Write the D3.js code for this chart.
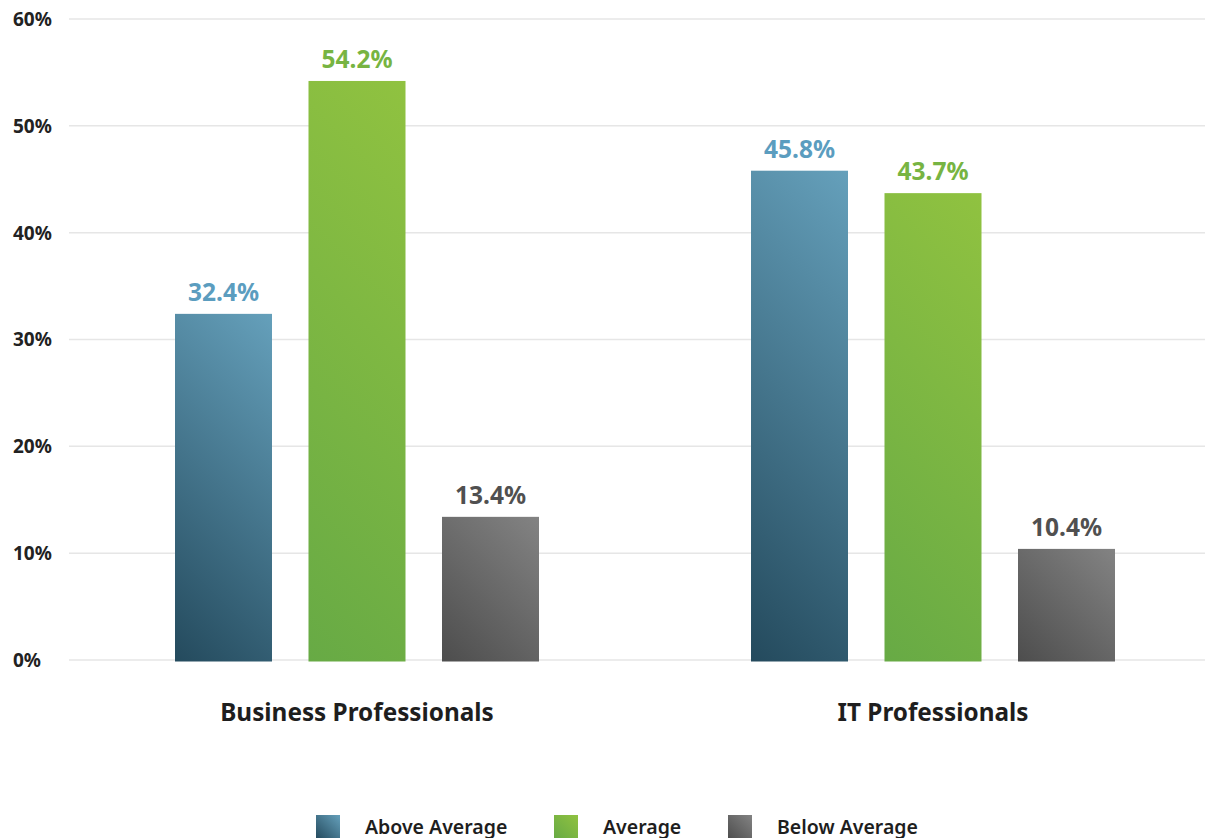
<!DOCTYPE html>
<html>
<head>
<meta charset="utf-8">
<script src="https://cdn.jsdelivr.net/npm/d3@7"></script>
<style>
  html, body { margin: 0; padding: 0; background: #fff; }
  svg { display: block; font-family: "Noto Sans", "Open Sans", sans-serif; }
</style>
</head>
<body>
<svg id="chart" width="1205" height="838"></svg>
<script>
// Survey groups and the share of respondents in each rating band
const categories = ["Business Professionals", "IT Professionals"];
const seriesNames = ["Above Average", "Average", "Below Average"];
const aboveAverage = [32.4, 45.8];
const average = [54.2, 43.7];
const belowAverage = [13.4, 10.4];
const yTicks = [0, 10, 20, 30, 40, 50, 60];

const seriesValues = [aboveAverage, average, belowAverage];

// gradient stops (bottom-left dark -> top-right light) and label colours per series
const palette = [
  { dark: "#244a5d", light: "#65a0bb", label: "#5b9dbf" },
  { dark: "#67aa45", light: "#90c240", label: "#77b442" },
  { dark: "#4d4d4d", light: "#838383", label: "#505050" }
];

const svg = d3.select("#chart");
const plotLeft = 69, gridRight = 1205, plotTop = 19, plotBottom = 660;
const defs = svg.append("defs");

const y = d3.scaleLinear().domain([0, 60]).range([plotBottom, plotTop]);

const x0 = d3.scaleBand().domain(categories).range([plotLeft, 1221]).padding(0);
const x1 = d3.scaleBand().domain(seriesNames)
  .range([0, x0.bandwidth()])
  .paddingInner(0.2734).paddingOuter(0.794);

// 45-degree gradient spanning a rectangle corner to corner (like CSS linear-gradient(45deg)),
// expressed in the rectangle's own user coordinates
function diagonalGradient(id, p, x, yTop, w, h) {
  const cx = x + w / 2, cy = yTop + h / 2;
  const half = (w + h) / 4;
  const g = defs.append("linearGradient")
    .attr("id", id)
    .attr("gradientUnits", "userSpaceOnUse")
    .attr("x1", cx - half).attr("y1", cy + half)
    .attr("x2", cx + half).attr("y2", cy - half);
  g.append("stop").attr("offset", "0").attr("stop-color", p.dark);
  g.append("stop").attr("offset", "1").attr("stop-color", p.light);
  return `url(#${id})`;
}

// horizontal gridlines
svg.append("g").selectAll("line").data(yTicks).join("line")
  .attr("x1", plotLeft).attr("x2", gridRight)
  .attr("y1", d => y(d)).attr("y2", d => y(d))
  .attr("stroke", "#e6e6e6").attr("stroke-width", 1.5);

// y tick labels
svg.append("g").selectAll("text").data(yTicks).join("text")
  .attr("x", 13).attr("y", d => y(d))
  .attr("dy", "0.36em")
  .attr("font-size", 19).attr("font-weight", 700).attr("fill", "#222")
  .text(d => d + "%");

// bars
const groups = svg.append("g").selectAll("g").data(categories).join("g")
  .attr("transform", c => `translate(${x0(c)},0)`);

groups.each(function (c, ci) {
  const g = d3.select(this);
  seriesNames.forEach((s, si) => {
    const v = seriesValues[si][ci];
    const bx = x1(s), bw = x1.bandwidth();
    const by = y(v), bh = y(0) - y(v) + 1.5;
    g.append("rect")
      .attr("x", bx).attr("width", bw)
      .attr("y", by).attr("height", bh)
      .attr("fill", diagonalGradient(`grad-${ci}-${si}`, palette[si], bx, by, bw, bh));
    g.append("text")
      .attr("x", bx + bw / 2)
      .attr("y", by - 13)
      .attr("text-anchor", "middle")
      .attr("font-size", 24.5).attr("font-weight", 700)
      .attr("fill", palette[si].label)
      .text(v.toFixed(1) + "%");
  });
  g.append("text")
    .attr("x", x0.bandwidth() / 2).attr("y", 721)
    .attr("text-anchor", "middle")
    .attr("font-size", 24.3).attr("font-weight", 700).attr("fill", "#1e1e1e")
    .text(c);
});

// legend
const legendX = [316, 554, 728];
const legend = svg.append("g").selectAll("g").data(seriesNames).join("g")
  .attr("transform", (d, i) => `translate(${legendX[i]},815)`);
legend.append("rect").attr("width", 24).attr("height", 24)
  .attr("fill", (d, i) => diagonalGradient(`legend-grad-${i}`, palette[i], 0, 0, 24, 24));
legend.append("text").attr("x", 49).attr("y", 12).attr("dy", "0.36em")
  .attr("font-size", 19.5).attr("font-weight", 600).attr("fill", "#1e1e1e")
  .text(d => d);
</script>
</body>
</html>
